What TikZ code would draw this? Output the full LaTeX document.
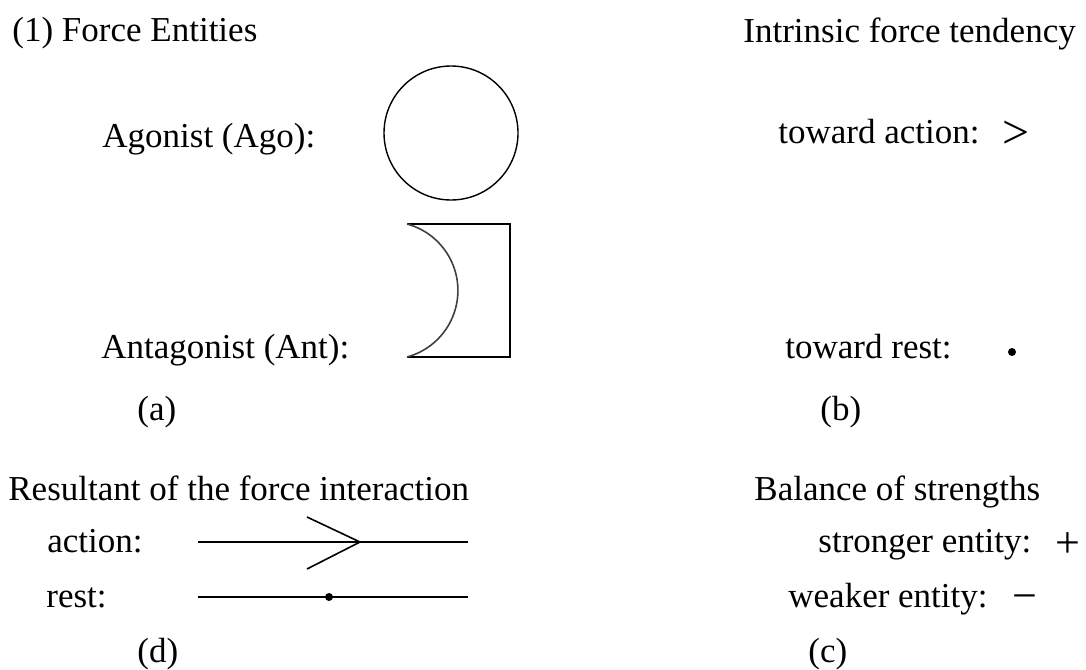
\documentclass[tikz,border=0pt]{standalone}
\usepackage{fontspec}
\setmainfont{Liberation Serif}
\begin{document}
\begin{tikzpicture}[x=0.5pt,y=-0.5pt,
  lbl/.style={anchor=base west, inner sep=0pt, font=\fontsize{17.5}{21}\selectfont},
  sym/.style={anchor=base, inner sep=0pt, font=\fontsize{22}{26}\selectfont},
  ln/.style={line width=0.8pt},
  dotmark/.style={circle, fill=black, inner sep=0pt, minimum size=4pt}]
\useasboundingbox (0,0) rectangle (1086,669);
% (a) force entities
\node[lbl] (t1) at (12,41) {(1) Force Entities};
\node[lbl] (ago) at (102,147) {Agonist (Ago):};
\node[circle, draw, line width=0.7pt, minimum size=67pt, inner sep=0pt] (agoC) at (451,133) {};
\node[lbl] (ant) at (101,358) {Antagonist (Ant):};
\coordinate (antTL) at (407,224);
\coordinate (antTR) at (510,224);
\coordinate (antBR) at (510,357);
\coordinate (antBL) at (407,357);
\draw[line width=1pt, line join=miter] (antTL) -- (antTR) -- (antBR) -- (antBL);
\draw[line width=0.8pt, black!75] (antTL) arc[start angle=-74.86, end angle=74.86, radius=68.9];
\node[lbl] (la) at (137,420) {(a)};
% (b) intrinsic force tendency
\node[lbl] (t2) at (743,42) {Intrinsic force tendency};
\node[lbl] (tact) at (778,143) {toward action:};
\node[sym, font=\fontsize{24}{28}\selectfont] (gt) at (1016,148) {>};
\node[lbl] (trest) at (785,358) {toward rest:};
\node[dotmark] (rdot) at (1012,352) {};
\node[lbl] (lb) at (820,420) {(b)};
% (d) resultant
\node[lbl] (t3) at (8,500) {Resultant of the force interaction};
\node[lbl] (act) at (47,552) {action:};
\node[lbl] (rst) at (46,607) {rest:};
\coordinate (aL) at (198,542);
\coordinate (aR) at (468,542);
\coordinate (aTip) at (360,542);
\coordinate (aUp) at (307,517);
\coordinate (aDn) at (307,569);
\draw[ln] (aL) -- (aR);
\draw[ln] (aUp) -- (aTip) -- (aDn);
\coordinate (rL) at (198,597);
\coordinate (rR) at (468,597);
\draw[ln] (rL) -- (rR);
\node[dotmark] (rmid) at (329,597) {};
\node[lbl] (ld) at (137,662) {(d)};
% (c) balance of strengths
\node[lbl] (t4) at (754,500) {Balance of strengths};
\node[lbl] (str) at (818,552) {stronger entity:};
\node[sym] (plus) at (1068,557) {+};
\node[lbl] (wk) at (788,607) {weaker entity:};
\node[sym] (minus) at (1025,610) {−};
\node[lbl] (lc) at (808,662) {(c)};
\end{tikzpicture}
\end{document}
